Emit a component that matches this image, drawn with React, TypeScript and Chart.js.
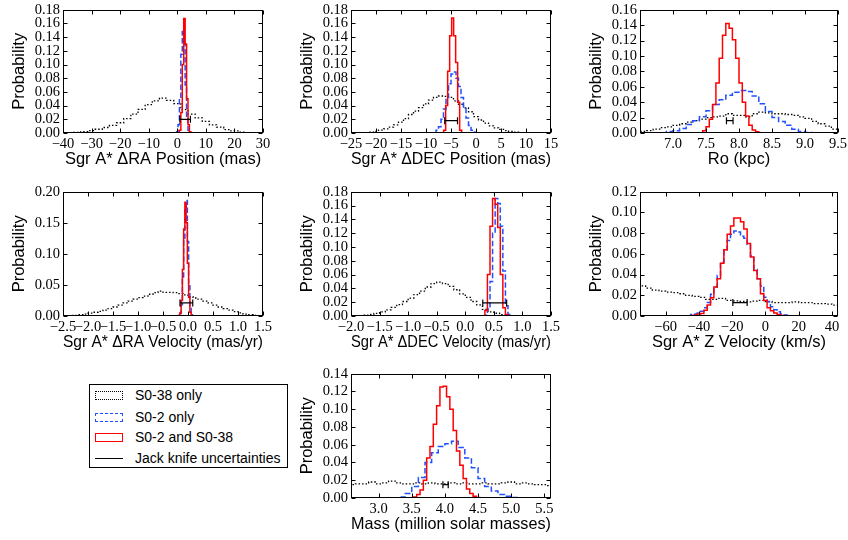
import React, { useEffect, useRef } from "react";
import { Chart, registerables } from "chart.js";
Chart.register(...registerables);

// ---------- Panel 1: Sgr A* ΔRA Position ----------
const raPosBlackX = [-37.5, -35, -32.5, -30, -27.5, -25, -22.5, -20, -17.5, -15, -12.5, -10, -7.5, -5, -2.5, 0, 2.5, 5, 7.5, 10, 12.5, 15, 17.5, 20, 22.5, 25, 27.5];
const raPosBlackY = [0.0005, 0.001, 0.002, 0.0035, 0.0055, 0.008, 0.011, 0.015, 0.021, 0.0275, 0.0345, 0.0415, 0.047, 0.051, 0.0475, 0.043, 0.034, 0.0275, 0.022, 0.017, 0.012, 0.0085, 0.005, 0.003, 0.0013, 0.0004, 0];
const raPosBlueX = [-0.5, 0, 0.5, 1, 1.5, 2, 2.5, 3, 3.5, 4, 4.5];
const raPosBlueY = [0, 0.002, 0.012, 0.05, 0.115, 0.148, 0.13, 0.07, 0.022, 0.004, 0];
const raPosRedX = [0.5, 1, 1.5, 2, 2.5, 3, 3.5, 4, 4.5, 5];
const raPosRedY = [0, 0.004, 0.03, 0.1, 0.167, 0.13, 0.05, 0.012, 0.002, 0];
const raPosJackX = [0.9, 4.6];
const raPosJackY = 0.02;
const raPosXTicks = [-40, -30, -20, -10, 0, 10, 20, 30];

// ---------- Panel 2: Sgr A* ΔDEC Position ----------
const decPosBlackX = [-24, -23, -22, -21, -20, -19, -18, -17, -16, -15, -14, -13, -12, -11, -10, -9, -8, -7, -6, -5, -4, -3, -2, -1, 0, 1, 2, 3, 4, 5, 6, 7, 8, 9, 10, 11];
const decPosBlackY = [0.0001, 0.0003, 0.0006, 0.0012, 0.0025, 0.0042, 0.006, 0.0085, 0.012, 0.016, 0.021, 0.027, 0.032, 0.037, 0.0425, 0.048, 0.052, 0.054, 0.0535, 0.052, 0.047, 0.042, 0.0365, 0.031, 0.024, 0.019, 0.0145, 0.0105, 0.0075, 0.0053, 0.0036, 0.0024, 0.0013, 0.0006, 0.0002, 0];
const decPosBlueX = [-8.25, -7.75, -7.25, -6.75, -6.25, -5.75, -5.25, -4.75, -4.25, -3.75, -3.25, -2.75, -2.25, -1.75, -1.25, -0.75, -0.25, 0.25];
const decPosBlueY = [0, 0.004, 0.009, 0.02, 0.035, 0.052, 0.072, 0.086, 0.089, 0.08, 0.068, 0.052, 0.036, 0.022, 0.011, 0.004, 0.001, 0];
const decPosRedX = [-6.67, -6.27, -5.87, -5.47, -5.07, -4.67, -4.27, -3.87, -3.47, -3.07, -2.67];
const decPosRedY = [0, 0.004, 0.04, 0.09, 0.142, 0.168, 0.142, 0.103, 0.045, 0.004, 0];
const decPosJackX = [-6.25, -3.7];
const decPosJackY = 0.018;
const decPosXTicks = [-25, -20, -15, -10, -5, 0, 5, 10, 15];

// ---------- Panel 3: Ro ----------
const roBlackX = [6.45, 6.55, 6.65, 6.75, 6.85, 6.95, 7.05, 7.15, 7.25, 7.35, 7.45, 7.55, 7.65, 7.75, 7.85, 7.95, 8.05, 8.15, 8.25, 8.35, 8.45, 8.55, 8.65, 8.75, 8.85, 8.95, 9.05, 9.15, 9.25, 9.35, 9.45, 9.55];
const roBlackY = [0.002, 0.002, 0.003, 0.005, 0.007, 0.008, 0.01, 0.012, 0.014, 0.016, 0.018, 0.02, 0.021, 0.022, 0.025, 0.023, 0.023, 0.021, 0.025, 0.027, 0.026, 0.025, 0.025, 0.024, 0.023, 0.021, 0.019, 0.015, 0.012, 0.009, 0.005, 0.003];
const roBlueX = [6.85, 6.95, 7.05, 7.15, 7.25, 7.35, 7.45, 7.55, 7.65, 7.75, 7.85, 7.95, 8.05, 8.15, 8.25, 8.35, 8.45, 8.55, 8.65, 8.75, 8.85, 8.95, 9.05, 9.15];
const roBlueY = [0, 0.002, 0.003, 0.006, 0.011, 0.016, 0.021, 0.029, 0.037, 0.043, 0.049, 0.053, 0.055, 0.054, 0.048, 0.038, 0.028, 0.02, 0.015, 0.01, 0.005, 0.002, 0.0005, 0];
const roRedX = [7.425, 7.475, 7.525, 7.575, 7.625, 7.675, 7.725, 7.775, 7.825, 7.875, 7.925, 7.975, 8.025, 8.075, 8.125, 8.175, 8.225, 8.275, 8.325];
const roRedY = [0, 0.003, 0.008, 0.018, 0.037, 0.065, 0.097, 0.127, 0.142, 0.136, 0.121, 0.097, 0.065, 0.04, 0.022, 0.01, 0.004, 0.0015, 0];
const roJackX = [7.81, 7.91];
const roJackY = 0.016;
const roXTicks = [7.0, 7.5, 8.0, 8.5, 9.0, 9.5];

// ---------- Panel 4: Sgr A* ΔRA Velocity ----------
const raVelBlackX = [-2.45, -2.35, -2.25, -2.15, -2.05, -1.95, -1.85, -1.75, -1.65, -1.55, -1.45, -1.35, -1.25, -1.15, -1.05, -0.95, -0.85, -0.75, -0.65, -0.55, -0.45, -0.35, -0.25, -0.15, -0.05, 0.05, 0.15, 0.25, 0.35, 0.45, 0.55, 0.65, 0.75, 0.85, 0.95, 1.05, 1.15, 1.25, 1.35, 1.45];
const raVelBlackY = [0.0003, 0.0005, 0.001, 0.002, 0.003, 0.0045, 0.006, 0.0075, 0.0095, 0.012, 0.0145, 0.0175, 0.021, 0.024, 0.027, 0.0295, 0.032, 0.035, 0.0375, 0.04, 0.038, 0.038, 0.0375, 0.036, 0.034, 0.031, 0.029, 0.027, 0.024, 0.021, 0.0175, 0.0145, 0.012, 0.0095, 0.007, 0.005, 0.003, 0.002, 0.001, 0.0003];
const raVelBlueX = [-0.6, -0.2, -0.175, -0.15, -0.125, -0.1, -0.075, -0.05, -0.025, 0, 0.025, 0.05, 0.075, 0.1, 0.125, 0.4];
const raVelBlueY = [0, 0, 0.001, 0.004, 0.018, 0.06, 0.125, 0.175, 0.186, 0.12, 0.05, 0.012, 0.002, 0, 0, 0];
const raVelRedX = [-0.6, -0.2, -0.175, -0.15, -0.125, -0.1, -0.075, -0.05, -0.025, 0, 0.025, 0.05, 0.075, 0.1, 0.4];
const raVelRedY = [0, 0, 0.001, 0.005, 0.025, 0.075, 0.14, 0.183, 0.15, 0.085, 0.03, 0.006, 0.001, 0, 0];
const raVelJackX = [-0.16, 0.095];
const raVelJackY = 0.021;
const raVelXTicks = [-2.5, -2.0, -1.5, -1.0, -0.5, 0, 0.5, 1.0, 1.5];

// ---------- Panel 5: Sgr A* ΔDEC Velocity ----------
const decVelBlackX = [-1.95, -1.85, -1.75, -1.65, -1.55, -1.45, -1.35, -1.25, -1.15, -1.05, -0.95, -0.85, -0.75, -0.65, -0.55, -0.45, -0.35, -0.25, -0.15, -0.05, 0.05, 0.15, 0.25, 0.35, 0.45, 0.55, 0.65, 0.75, 0.85, 0.95, 1.05];
const decVelBlackY = [0.0002, 0.0005, 0.0012, 0.0022, 0.0038, 0.006, 0.009, 0.0125, 0.0165, 0.021, 0.026, 0.031, 0.036, 0.042, 0.047, 0.049, 0.047, 0.043, 0.038, 0.032, 0.027, 0.021, 0.016, 0.0095, 0.006, 0.004, 0.002, 0.001, 0.0005, 0.0002, 0];
const decVelBlueX = [0.3, 0.32, 0.365, 0.41, 0.455, 0.5, 0.545, 0.59, 0.635, 0.68, 0.725, 0.77, 0.815, 1.1];
const decVelBlueY = [0, 0, 0.001, 0.01, 0.05, 0.12, 0.17, 0.163, 0.13, 0.065, 0.015, 0.002, 0, 0];
const decVelRedX = [0.3, 0.32, 0.365, 0.41, 0.455, 0.5, 0.545, 0.59, 0.635, 0.68, 0.725, 0.77, 1.1];
const decVelRedY = [0, 0, 0.008, 0.06, 0.13, 0.17, 0.162, 0.128, 0.06, 0.012, 0.002, 0, 0];
const decVelJackX = [0.306, 0.724];
const decVelJackY = 0.019;
const decVelXTicks = [-2.0, -1.5, -1.0, -0.5, 0, 0.5, 1.0, 1.5];

// ---------- Panel 6: Sgr A* Z Velocity ----------
const zVelBlackX = [-78, -74, -70, -66, -62, -58, -54, -50, -46, -42, -38, -34, -30, -26, -22, -18, -14, -10, -6, -2, 2, 6, 10, 14, 18, 22, 26, 30, 34, 38, 42, 46];
const zVelBlackY = [0.03, 0.029, 0.027, 0.025, 0.024, 0.023, 0.0225, 0.0215, 0.02, 0.019, 0.018, 0.016, 0.016, 0.017, 0.015, 0.0146, 0.014, 0.0137, 0.0143, 0.015, 0.014, 0.013, 0.013, 0.013, 0.0137, 0.013, 0.013, 0.012, 0.012, 0.0115, 0.0105, 0.0105];
const zVelBlueX = [-80, -46, -44, -42, -40, -38, -36, -34, -32, -30, -28, -26, -24, -22, -20, -18, -16, -14, -12, -10, -8, -6, -4, -2, 0, 2, 4, 6, 8, 10, 12, 14, 48];
const zVelBlueY = [0, 0, 0.0015, 0.002, 0.003, 0.0045, 0.008, 0.013, 0.021, 0.028, 0.039, 0.052, 0.064, 0.073, 0.079, 0.082, 0.081, 0.077, 0.075, 0.069, 0.058, 0.045, 0.036, 0.029, 0.018, 0.0137, 0.009, 0.006, 0.004, 0.002, 0.001, 0, 0];
const zVelRedX = [-80, -44, -42, -40, -38, -36, -34, -32, -30, -28, -26, -24, -22, -20, -18, -16, -14, -12, -10, -8, -6, -4, -2, 0, 2, 4, 6, 8, 10, 12, 48];
const zVelRedY = [0, 0, 0.001, 0.002, 0.0025, 0.0055, 0.0105, 0.0175, 0.028, 0.036, 0.051, 0.064, 0.079, 0.087, 0.0945, 0.0945, 0.091, 0.084, 0.07, 0.057, 0.044, 0.036, 0.0216, 0.015, 0.008, 0.005, 0.003, 0.0015, 0.0005, 0, 0];
const zVelJackX = [-19.6, -11];
const zVelJackY = 0.013;
const zVelXTicks = [-60, -40, -20, 0, 20, 40];

// ---------- Panel 7: Mass ----------
const massBlackX = [2.5, 2.6, 2.7, 2.8, 2.9, 3.0, 3.1, 3.2, 3.3, 3.4, 3.5, 3.6, 3.7, 3.8, 3.9, 4.0, 4.1, 4.2, 4.3, 4.4, 4.5, 4.6, 4.7, 4.8, 4.9, 5.0, 5.1, 5.2, 5.3, 5.4, 5.5, 5.6, 5.7];
const massBlackY = [0.015, 0.015, 0.016, 0.016, 0.018, 0.016, 0.017, 0.019, 0.017, 0.016, 0.016, 0.017, 0.016, 0.017, 0.016, 0.016, 0.017, 0.016, 0.017, 0.016, 0.016, 0.017, 0.016, 0.016, 0.017, 0.018, 0.016, 0.017, 0.016, 0.015, 0.015, 0.014, 0.014];
const massBlueX = [2.5, 3.25, 3.35, 3.45, 3.55, 3.65, 3.75, 3.85, 3.95, 4.05, 4.15, 4.25, 4.35, 4.45, 4.55, 4.65, 4.75, 4.85, 4.95, 5.05, 5.15, 5.7];
const massBlueY = [0, 0, 0.001, 0.005, 0.013, 0.023, 0.04, 0.051, 0.058, 0.061, 0.064, 0.057, 0.045, 0.034, 0.022, 0.013, 0.008, 0.004, 0.002, 0.0005, 0, 0];
const massRedX = [2.5, 3.5, 3.55, 3.6, 3.65, 3.7, 3.75, 3.8, 3.85, 3.9, 3.95, 4.0, 4.05, 4.1, 4.15, 4.2, 4.25, 4.3, 4.35, 4.4, 4.45, 4.5, 4.55, 5.7];
const massRedY = [0, 0, 0.001, 0.004, 0.009, 0.02, 0.045, 0.058, 0.083, 0.104, 0.125, 0.126, 0.114, 0.1, 0.076, 0.053, 0.037, 0.022, 0.01, 0.005, 0.002, 0.0005, 0, 0];
const massJackX = [3.97, 4.05];
const massJackY = 0.015;
const massXTicks = [3.0, 3.5, 4.0, 4.5, 5.0, 5.5];

// ---------- Probability ticks ----------
const probTicks018 = [0, 0.02, 0.04, 0.06, 0.08, 0.1, 0.12, 0.14, 0.16, 0.18];
const probTicks016 = [0, 0.02, 0.04, 0.06, 0.08, 0.1, 0.12, 0.14, 0.16];
const probTicks020 = [0, 0.05, 0.1, 0.15, 0.2];
const probTicks012 = [0, 0.02, 0.04, 0.06, 0.08, 0.1, 0.12];
const probTicks014 = [0, 0.02, 0.04, 0.06, 0.08, 0.1, 0.12, 0.14];

const legendLabels = ["S0-38 only", "S0-2 only", "S0-2 and S0-38", "Jack knife uncertainties"];

const BLUE = "#1f4fff";
const RED = "#ff0000";

const YW = 56; // y-axis box width
const XH = 38; // x-axis box height
const PT = 10; // top padding
const PR = 16; // right padding

const panels = [
  { title: "Sgr A* \u0394RA Position (mas)", rect: [63, 8, 263, 133], xr: [-40, 30], xDec: 0, xTicks: raPosXTicks, yTicks: probTicks018, yMax: 0.18, yDec: 2,
    black: [raPosBlackX, raPosBlackY], blue: [raPosBlueX, raPosBlueY], red: [raPosRedX, raPosRedY], jack: [raPosJackX, raPosJackY] },
  { title: "Sgr A* \u0394DEC Position (mas)", rect: [351, 8, 551, 133], xr: [-25, 15], xDec: 0, xTicks: decPosXTicks, yTicks: probTicks018, yMax: 0.18, yDec: 2,
    black: [decPosBlackX, decPosBlackY], blue: [decPosBlueX, decPosBlueY], red: [decPosRedX, decPosRedY], jack: [decPosJackX, decPosJackY] },
  { title: "Ro (kpc)", rect: [640, 8, 838, 133], xr: [6.5, 9.5], xDec: 1, xTicks: roXTicks, yTicks: probTicks016, yMax: 0.16, yDec: 2,
    black: [roBlackX, roBlackY], blue: [roBlueX, roBlueY], red: [roRedX, roRedY], jack: [roJackX, roJackY] },
  { title: "Sgr A* \u0394RA Velocity (mas/yr)", rect: [63, 190, 263, 316], xr: [-2.5, 1.5], xDec: 1, xTicks: raVelXTicks, yTicks: probTicks020, yMax: 0.2, yDec: 2,
    black: [raVelBlackX, raVelBlackY], blue: [raVelBlueX, raVelBlueY], red: [raVelRedX, raVelRedY], jack: [raVelJackX, raVelJackY] },
  { title: "Sgr A* \u0394DEC Velocity (mas/yr)", rect: [351, 190, 551, 316], xr: [-2.0, 1.5], xDec: 1, xTicks: decVelXTicks, yTicks: probTicks018, yMax: 0.18, yDec: 2,
    black: [decVelBlackX, decVelBlackY], blue: [decVelBlueX, decVelBlueY], red: [decVelRedX, decVelRedY], jack: [decVelJackX, decVelJackY] },
  { title: "Sgr A* Z Velocity (km/s)", rect: [640, 190, 838, 316], xr: [-75.4, 43.6], xDec: 0, xTicks: zVelXTicks, yTicks: probTicks012, yMax: 0.12, yDec: 2,
    black: [zVelBlackX, zVelBlackY], blue: [zVelBlueX, zVelBlueY], red: [zVelRedX, zVelRedY], jack: [zVelJackX, zVelJackY] },
  { title: "Mass (million solar masses)", rect: [351, 372, 551, 498], xr: [2.584, 5.6], xDec: 1, xTicks: massXTicks, yTicks: probTicks014, yMax: 0.14, yDec: 2,
    black: [massBlackX, massBlackY], blue: [massBlueX, massBlueY], red: [massRedX, massRedY], jack: [massJackX, massJackY] },
];

function fmt(v: number, d: number) {
  const s = Math.abs(v).toFixed(d);
  return (v < -1e-12 ? "\u2212" : "") + s;
}

function pts(xs: number[], ys: number[]) {
  return xs.map((x, i) => ({ x, y: ys[i] }));
}

const framePlugin = {
  id: "frameTicks",
  afterDatasetsDraw(chart: any) {
    const { ctx, chartArea: a, scales } = chart;
    ctx.save();
    ctx.strokeStyle = "#000";
    ctx.lineWidth = 1;
    const L = Math.round(a.left) + 0.5;
    const R = Math.round(a.right) - 0.5;
    const T = Math.round(a.top) + 0.5;
    const B = Math.round(a.bottom) - 0.5;
    ctx.strokeRect(L, T, R - L, B - T);
    ctx.beginPath();
    const tl = 4;
    for (const t of scales.x.ticks) {
      const px = Math.round(scales.x.getPixelForValue(t.value)) + 0.5;
      ctx.moveTo(px, B); ctx.lineTo(px, B - tl);
      ctx.moveTo(px, T); ctx.lineTo(px, T + tl);
    }
    for (const t of scales.y.ticks) {
      const py = Math.round(scales.y.getPixelForValue(t.value)) + 0.5;
      ctx.moveTo(L, py); ctx.lineTo(L + tl, py);
      ctx.moveTo(R, py); ctx.lineTo(R - tl, py);
    }
    ctx.stroke();
    ctx.restore();
  },
};

function Panel({ p }: { p: any }) {
  const ref = useRef<HTMLCanvasElement>(null);
  const [l, t, r, b] = p.rect;
  const w = r - l + YW + PR;
  const h = b - t + PT + XH;
  useEffect(() => {
    const chart = new Chart(ref.current as HTMLCanvasElement, {
      type: "line",
      data: {
        datasets: [
          {
            data: pts(p.jack[0], [p.jack[1], p.jack[1]]),
            borderColor: "#000", borderWidth: 1.2,
            pointStyle: "line", pointRotation: 90, pointRadius: 3.5, pointHoverRadius: 3.5,
            pointBorderColor: "#000", pointBorderWidth: 1.2,
          },
          { data: pts(p.red[0], p.red[1]), borderColor: RED, borderWidth: 1.5, stepped: "middle", pointRadius: 0 },
          { data: pts(p.blue[0], p.blue[1]), borderColor: BLUE, borderWidth: 1.5, borderDash: [5.5, 2.5], stepped: "middle", pointRadius: 0 },
          { data: pts(p.black[0], p.black[1]), borderColor: "#000", borderWidth: 1.3, borderDash: [1.5, 2], stepped: "middle", pointRadius: 0 },
        ],
      } as any,
      options: {
        animation: false,
        responsive: false,
        events: [],
        layout: { padding: { top: PT, right: PR, left: 0, bottom: 0 } },
        plugins: { legend: { display: false }, tooltip: { enabled: false } },
        scales: {
          x: {
            type: "linear",
            min: p.xr[0], max: p.xr[1],
            grid: { display: false, drawTicks: false },
            border: { display: false },
            afterBuildTicks: (s: any) => { s.ticks = p.xTicks.map((v: number) => ({ value: v })); },
            afterFit: (s: any) => { s.height = XH; },
            ticks: {
              autoSkip: false, maxRotation: 0, minRotation: 0, padding: 2, color: "#000",
              font: { family: "Liberation Serif", size: 14.5 },
              callback: (v: any) => fmt(Number(v), p.xDec),
            },
            title: {
              display: true, text: p.title, color: "#000",
              font: { family: "Liberation Sans", size: 16.5 },
              padding: { top: 0, bottom: 2 },
            },
          },
          y: {
            type: "linear",
            min: 0, max: p.yMax,
            grid: { display: false, drawTicks: false },
            border: { display: false },
            afterBuildTicks: (s: any) => { s.ticks = p.yTicks.map((v: number) => ({ value: v })); },
            afterFit: (s: any) => { s.width = YW; },
            ticks: {
              autoSkip: false, padding: 3, color: "#000",
              font: { family: "Liberation Serif", size: 14.5 },
              callback: (v: any) => fmt(Number(v), p.yDec),
            },
            title: {
              display: true, text: "Probability", color: "#000",
              font: { family: "Liberation Sans", size: 16.5 },
              padding: { top: 3, bottom: 0 },
            },
          },
        },
      } as any,
      plugins: [framePlugin],
    });
    return () => chart.destroy();
  }, []);
  return (
    <canvas
      ref={ref}
      width={w}
      height={h}
      style={{ position: "absolute", left: l - YW, top: t - PT, width: w, height: h }}
    />
  );
}

function Legend() {
  const rows = [
    { border: "1.5px dotted #000", h: 9 },
    { border: `1.5px dashed ${BLUE}`, h: 9 },
    { border: `1.5px solid ${RED}`, h: 9 },
    { border: "", h: 0 },
  ];
  const centers = [11, 33, 53, 74];
  return (
    <div
      style={{
        position: "absolute", left: 89, top: 384, width: 199, height: 84,
        border: "1px solid #000", boxSizing: "border-box", background: "#fff",
        fontFamily: "Liberation Sans", fontSize: 14, color: "#000",
      }}
    >
      {legendLabels.map((lab, i) => (
        <React.Fragment key={lab}>
          {rows[i].h > 0 ? (
            <div style={{ position: "absolute", left: 5, top: centers[i] - 5.5, width: 28, height: 9, border: rows[i].border, boxSizing: "border-box" }} />
          ) : (
            <div style={{ position: "absolute", left: 5, top: centers[i] - 1, width: 28, height: 0, borderTop: "1px solid #000" }} />
          )}
          <span style={{ position: "absolute", left: 45, top: centers[i] - 9, lineHeight: "16px", whiteSpace: "nowrap" }}>{lab}</span>
        </React.Fragment>
      ))}
    </div>
  );
}

export default function App() {
  return (
    <div style={{ position: "absolute", left: 0, top: 0, width: 848, height: 540, overflow: "hidden", background: "#fff" }}>
      {panels.map((p, i) => (
        <Panel key={i} p={p} />
      ))}
      <Legend />
    </div>
  );
}
